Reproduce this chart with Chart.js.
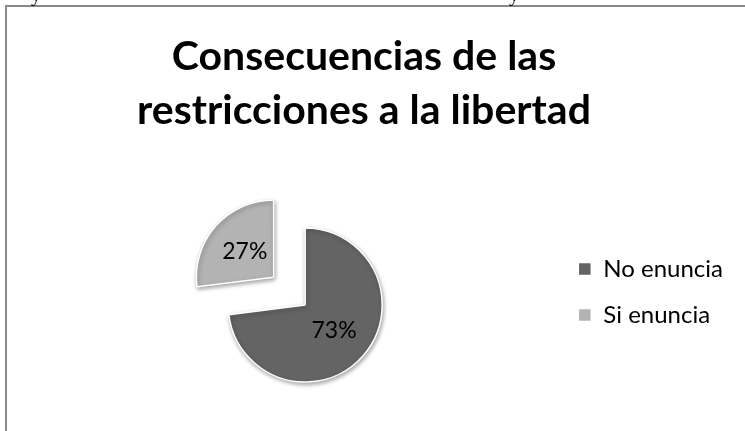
<!DOCTYPE html>
<html>
<head>
<meta charset="utf-8">
<script src="https://cdn.jsdelivr.net/npm/chart.js@4/dist/chart.umd.min.js"></script>
<style>
    html, body { margin: 0; padding: 0; background: #fff; overflow: hidden; }
    #page { position: relative; width: 745px; height: 431px; overflow: hidden; }
    #frame { position: absolute; left: 5px; top: 5px; width: 800px; height: 500px;
        border-top: 2px solid #8a8a8a; border-left: 2px solid #8a8a8a; }
    .cut { position: absolute; top: -16px; font: 20px/20px "Liberation Serif", serif; color: #000; }
    #chart { position: absolute; left: 0; top: 0; }
</style>
</head>
<body>
<div id="page">
    <div id="frame"></div>
    <span class="cut" style="left:31px">y</span>
    <span class="cut" style="left:509px">y</span>
    <canvas id="chart" width="745" height="431"></canvas>
</div>
<script>
const categories = ['No enuncia', 'Si enuncia'];
const values = [73, 27];
const titleLines = ['Consecuencias de las', 'restricciones a la libertad'];

const sliceColors = ['#646464', '#b3b3b3'];

// keeps the pie left of the legend without moving the title
const leftSpacer = {
    id: 'leftSpacer',
    beforeInit: function (chart) {
        Chart.layouts.addBox(chart, {
            position: 'left',
            fullSize: false,
            weight: 0,
            options: {},
            isHorizontal: function () { return false; },
            update: function (maxWidth, maxHeight) { this.width = 59; this.height = maxHeight; },
            draw: function () {}
        });
    }
};

// soft shadow like the office chart
const sliceShadow = {
    id: 'sliceShadow',
    beforeDatasetDraw: function (chart) {
        let ctx = chart.ctx;
        ctx.save();
        ctx.shadowColor = 'rgba(0,0,0,0.35)';
        ctx.shadowBlur = 4;
        ctx.shadowOffsetX = 1;
        ctx.shadowOffsetY = 2;
    },
    afterDatasetDraw: function (chart) {
        chart.ctx.restore();
    }
};

const sliceLabels = {
    id: 'sliceLabels',
    afterDatasetsDraw: function (chart) {
        let ctx = chart.ctx;
        let meta = chart.getDatasetMeta(0);
        let total = values.reduce((a, b) => a + b, 0);
        ctx.save();
        ctx.font = '23px Lato';
        ctx.fillStyle = '#000';
        ctx.textAlign = 'center';
        ctx.textBaseline = 'middle';
        meta.data.forEach((arc, i) => {
            let mid = (arc.startAngle + arc.endAngle) / 2;
            let shift = (arc.options.offset || 0) / 4;
            let r = shift + arc.outerRadius / 2;
            let pct = Math.round(values[i] / total * 100) + '%';
            ctx.fillText(pct, arc.x + Math.cos(mid) * r, arc.y + Math.sin(mid) * r);
        });
        ctx.restore();
    }
};

let ctx = document.getElementById('chart');
let myChart = new Chart(ctx, {
    type: 'pie',
    data: {
        labels: categories,
        datasets: [{
            data: values,
            backgroundColor: sliceColors,
            borderColor: '#ffffff',
            borderWidth: 1.5,
            offset: [0, 168],
            radius: 77,
            cutout: '0%'
        }]
    },
    options: {
        responsive: false,
        animation: false,
        devicePixelRatio: 1,
        layout: { padding: { left: -5, right: 12, top: 0, bottom: 56 } },
        plugins: {
            title: {
                display: true,
                text: titleLines,
                color: '#000',
                font: { family: 'Lato', weight: 'bold', size: 41, lineHeight: '54px' },
                padding: { top: 30, bottom: 97 }
            },
            legend: {
                position: 'right',
                align: 'start',
                fullSize: false,
                labels: {
                    color: '#000',
                    font: { family: 'Lato', size: 24 },
                    boxWidth: 13,
                    boxHeight: 13,
                    padding: 22
                }
            },
            tooltip: { enabled: false }
        }
    },
    plugins: [leftSpacer, sliceShadow, sliceLabels]
});
</script>
</body>
</html>
